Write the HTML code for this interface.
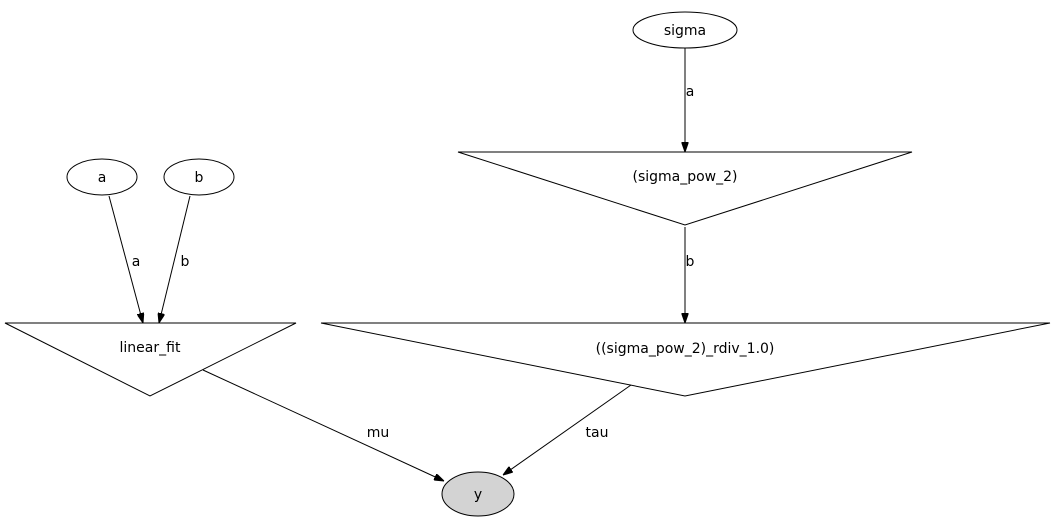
<!DOCTYPE html>
<html><head><meta charset="utf-8"><style>
html,body{margin:0;padding:0;background:#fff;}
svg{display:block;}
text{font-family:"DejaVu Sans","Liberation Sans",sans-serif;font-size:14px;fill:#000;}
</style></head><body>
<svg width="1056" height="525" viewBox="0 0 1056 525" xmlns="http://www.w3.org/2000/svg">
<defs>
<marker id="ar" markerWidth="10" markerHeight="7" refX="10" refY="3.5" orient="auto" markerUnits="userSpaceOnUse">
<polygon points="0,0 10,3.5 0,7" fill="#000" stroke="#000"/>
</marker>
</defs>
<g fill="none" stroke="#000" stroke-width="1">
<ellipse cx="685" cy="30" rx="52" ry="18" fill="#fff"/>
<ellipse cx="102" cy="177" rx="35" ry="18" fill="#fff"/>
<ellipse cx="199" cy="177" rx="35" ry="18" fill="#fff"/>
<ellipse cx="478" cy="494" rx="36" ry="22" fill="#d3d3d3"/>
<polygon points="458,152 912,152 685,225" fill="#fff"/>
<polygon points="321,323 1050,323 685,396" fill="#fff"/>
<polygon points="5,323 296,323 150,396" fill="#fff"/>
<line x1="685" y1="48" x2="685" y2="152" marker-end="url(#ar)"/>
<line x1="685" y1="227" x2="685" y2="323" marker-end="url(#ar)"/>
<line x1="109" y1="196" x2="143" y2="323" marker-end="url(#ar)"/>
<line x1="190" y1="196" x2="159" y2="323" marker-end="url(#ar)"/>
<line x1="203" y1="370" x2="444" y2="481" marker-end="url(#ar)"/>
<line x1="631" y1="385" x2="503" y2="475" marker-end="url(#ar)"/>
</g>
<g text-anchor="middle">
<text x="685" y="35">sigma</text>
<text x="102" y="182">a</text>
<text x="199" y="182">b</text>
<text x="478" y="499">y</text>
<text x="685" y="181">(sigma_pow_2)</text>
<text x="685" y="353">((sigma_pow_2)_rdiv_1.0)</text>
<text x="150" y="352">linear_fit</text>
<text x="690" y="96">a</text>
<text x="690" y="266">b</text>
<text x="136" y="266">a</text>
<text x="185" y="266">b</text>
<text x="378" y="437">mu</text>
<text x="597" y="437">tau</text>
</g>
</svg>
</body></html>
